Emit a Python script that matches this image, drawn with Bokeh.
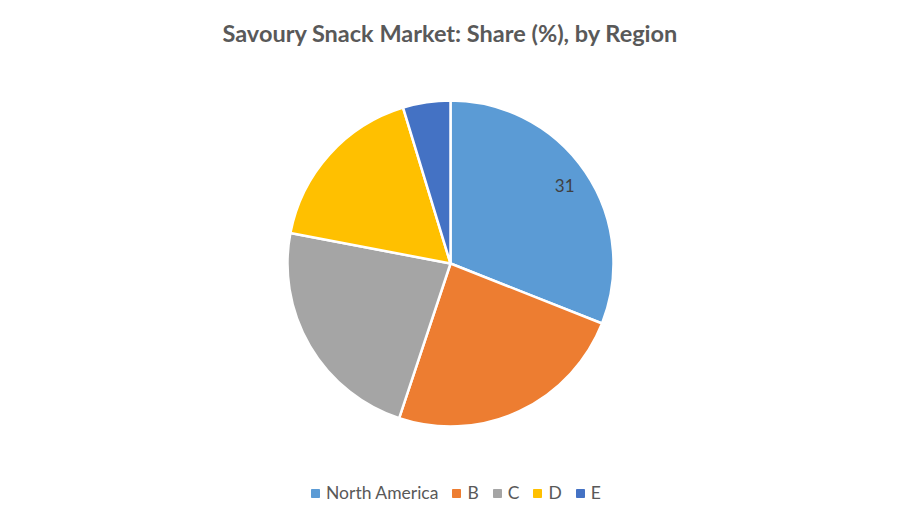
from math import pi
import math

from bokeh.core.properties import value
from bokeh.embed import file_html
from bokeh.models import ColumnDataSource, Legend, LegendItem, Range1d
from bokeh.plotting import figure
from bokeh.resources import INLINE

title_text = "Savoury Snack Market: Share (%), by Region"
regions = ["North America", "B", "C", "D", "E"]
shares = [31, 24.1, 22.9, 17.3, 4.7]
colors = ["#5B9BD5", "#ED7D31", "#A5A5A5", "#FFC000", "#4472C4"]
shown_labels = ["31", "", "", "", ""]

W, H = 884, 509
cx, cy, r = 450, 246, 163

total = sum(shares)
starts, ends, mids = [], [], []
acc = 0.0
for s in shares:
    a0 = pi / 2 - acc / total * 2 * pi
    acc += s
    a1 = pi / 2 - acc / total * 2 * pi
    starts.append(a0)
    ends.append(a1)
    mids.append((a0 + a1) / 2)

source = ColumnDataSource(data=dict(
    region=regions, share=shares, color=colors,
    start=starts, end=ends,
))

p = figure(
    width=W, height=H,
    x_range=Range1d(0, W), y_range=Range1d(0, H),
    output_backend="svg", toolbar_location=None,
    min_border=0, outline_line_color=None,
)
p.axis.visible = False
p.grid.visible = False

p.wedge(x=cx, y=cy, radius=r, start_angle="start", end_angle="end",
        direction="clock", fill_color="color", line_color="white",
        line_width=2.5, source=source)

# data label for the first slice only
rl = 138
lx = [cx + rl * math.cos(m) for m, t in zip(mids, shown_labels) if t]
ly = [cy + rl * math.sin(m) for m, t in zip(mids, shown_labels) if t]
lt = [t for t in shown_labels if t]
p.text(x=lx, y=ly, text=lt, text_align="center", text_baseline="middle",
       text_font=value("Lato"), text_font_size="17px", text_color="#404040")

# title
p.text(x=[cx], y=[H - 32], text=[title_text], text_align="center",
       text_baseline="middle", text_font=value("Lato"),
       text_font_size="23.5px", text_font_style="bold", text_color="#595959")

# legend
items = []
for name, col in zip(regions, colors):
    rr = p.scatter(x=[-100], y=[-100], marker="square", size=8,
                   fill_color=col, line_color=col)
    items.append(LegendItem(label=name, renderers=[rr]))

legend = Legend(items=items, orientation="horizontal",
                label_text_font="Lato", label_text_font_size="17.5px",
                label_text_color="#595959", glyph_width=20, glyph_height=20,
                label_width=0, label_standoff=1, spacing=8,
                background_fill_alpha=0, border_line_alpha=0,
                padding=0, margin=0)
p.add_layout(legend, "center")
legend.location = (305, 6)

open("out.html", "w").write(file_html(p, INLINE))
